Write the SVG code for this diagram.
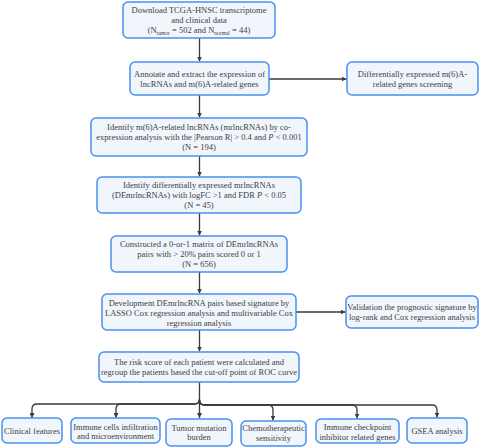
<svg xmlns="http://www.w3.org/2000/svg" width="480" height="447" viewBox="0 0 480 447">
<style>
.box{fill:#f1f6fd;stroke:#4a8ff0;stroke-width:1.5}
.t{font-family:"Liberation Serif","Times New Roman",serif;font-size:8.5px;fill:#404040;text-anchor:middle}
.sub{font-size:5.5px}
.c{fill:none;stroke:#3a3a3a;stroke-width:1.3}
</style>
<defs>
<marker id="ah" viewBox="0 0 10 10" refX="10" refY="5" markerWidth="5" markerHeight="5" orient="auto" markerUnits="userSpaceOnUse">
<path d="M0,0 L10,5 L0,10 z" fill="#3a3a3a"/>
</marker>
</defs>
<rect width="480" height="447" fill="#ffffff"/>
<g id="connectors">
<path class="c" d="M199.5,38 V61.5" marker-end="url(#ah)"/>
<path class="c" d="M199.5,95 V117.5" marker-end="url(#ah)"/>
<path class="c" d="M199.5,156 V176.5" marker-end="url(#ah)"/>
<path class="c" d="M199.5,213 V235.5" marker-end="url(#ah)"/>
<path class="c" d="M199.5,272 V293.5" marker-end="url(#ah)"/>
<path class="c" d="M199.5,330 V351.5" marker-end="url(#ah)"/>
<path class="c" d="M269,79 H346.5" marker-end="url(#ah)"/>
<path class="c" d="M296,312 H345.5" marker-end="url(#ah)"/>
<path class="c" d="M199.5,382 V418" marker-end="url(#ah)"/>
<path class="c" d="M199.5,399 Q199.5,404 194.5,404 H37 Q32,404 32,409 V418" marker-end="url(#ah)"/>
<path class="c" d="M199.5,399 Q199.5,404 194.5,404 H121 Q116,404 116,409 V418" marker-end="url(#ah)"/>
<path class="c" d="M199.5,400 Q199.5,405 204.5,405 H268 Q273,405 273,410 V420.5" marker-end="url(#ah)"/>
<path class="c" d="M199.5,400 Q199.5,405 204.5,405 H352 Q357,405 357,410 V418.5" marker-end="url(#ah)"/>
<path class="c" d="M199.5,400 Q199.5,405 204.5,405 H432 Q437,405 437,410 V417.5" marker-end="url(#ah)"/>
</g>
<g id="n1">
<rect class="box" x="123" y="2" width="152" height="36" rx="5"/>
<text class="t" x="199" y="13">Download TCGA-HNSC transcriptome</text>
<text class="t" x="199" y="23">and clinical data</text>
<text class="t" x="199" y="33">(N<tspan class="sub" dy="1.5">tumor</tspan><tspan dy="-1.5"> = 502 and N</tspan><tspan class="sub" dy="1.5">normal</tspan><tspan dy="-1.5"> = 44)</tspan></text>
</g>
<g id="n2">
<rect class="box" x="130" y="62" width="139" height="33" rx="5"/>
<text class="t" x="199.5" y="77">Annotate and extract the expression of</text>
<text class="t" x="199.5" y="87">lncRNAs and m(6)A-related genes</text>
</g>
<g id="n3">
<rect class="box" x="347" y="62" width="131" height="33" rx="5"/>
<text class="t" x="412.5" y="77">Differentially expressed m(6)A-</text>
<text class="t" x="412.5" y="87">related genes screening</text>
</g>
<g id="n4">
<rect class="box" x="91" y="118" width="216" height="38" rx="5"/>
<text class="t" x="199" y="130">Identify m(6)A-related lncRNAs (mrlncRNAs) by co-</text>
<text class="t" x="199" y="140">expression analysis  with the |Pearson R| &gt; 0.4 and <tspan font-style="italic">P</tspan> &lt; 0.001</text>
<text class="t" x="199" y="150">(N = 194)</text>
</g>
<g id="n5">
<rect class="box" x="97" y="177" width="204" height="36" rx="5"/>
<text class="t" x="199" y="188">Identify differentially expressed mrlncRNAs</text>
<text class="t" x="199" y="198">(DEmrlncRNAs) with logFC &gt;1 and FDR <tspan font-style="italic">P</tspan> &lt; 0.05</text>
<text class="t" x="199" y="208">(N = 45)</text>
</g>
<g id="n6">
<rect class="box" x="111" y="236" width="176" height="36" rx="5"/>
<text class="t" x="199" y="247">Constructed a 0-or-1 matrix of DEmrlncRNAs</text>
<text class="t" x="199" y="257">pairs with &gt; 20% pairs scored 0 or 1</text>
<text class="t" x="199" y="267">(N = 656)</text>
</g>
<g id="n7">
<rect class="box" x="102" y="294" width="194" height="36" rx="5"/>
<text class="t" x="199" y="306">Development DEmrlncRNA pairs based signature by</text>
<text class="t" x="199" y="316">LASSO Cox regression analysis and multivariable Cox</text>
<text class="t" x="199" y="326">regression analysis</text>
</g>
<g id="n8">
<rect class="box" x="346" y="296" width="132" height="32" rx="5"/>
<text class="t" x="412" y="310">Validation the prognostic signature by</text>
<text class="t" x="412" y="320">log-rank and Cox regression analysis</text>
</g>
<g id="n9">
<rect class="box" x="99" y="352" width="200" height="30" rx="5"/>
<text class="t" x="199" y="365">The risk score of each patient were calculated and</text>
<text class="t" x="199" y="375">regroup the patients based the cut-off point of ROC curve</text>
</g>
<g id="n10">
<rect class="box" x="2" y="418" width="60" height="25" rx="5"/>
<text class="t" x="32" y="433.5">Clinical features</text>
</g>
<g id="n11">
<rect class="box" x="71" y="418" width="89" height="25" rx="5"/>
<text class="t" x="115.5" y="429.5">Immune cells infiltration</text>
<text class="t" x="115.5" y="439">and microenvironment</text>
</g>
<g id="n12">
<rect class="box" x="166" y="419" width="66" height="27" rx="5"/>
<text class="t" x="199" y="430.5">Tumor mutation</text>
<text class="t" x="199" y="440">burden</text>
</g>
<g id="n13">
<rect class="box" x="241" y="421" width="65" height="25" rx="5"/>
<text class="t" x="273.5" y="431">Chemotherapeutic</text>
<text class="t" x="273.5" y="441">sensitivity</text>
</g>
<g id="n14">
<rect class="box" x="316" y="419" width="83" height="24" rx="5"/>
<text class="t" x="357.5" y="430">Immune checkpoint</text>
<text class="t" x="357.5" y="439.5">inhibitor related genes</text>
</g>
<g id="n15">
<rect class="box" x="407" y="418" width="60" height="25" rx="5"/>
<text class="t" x="437" y="433.5">GSEA analysis</text>
</g>
</svg>
